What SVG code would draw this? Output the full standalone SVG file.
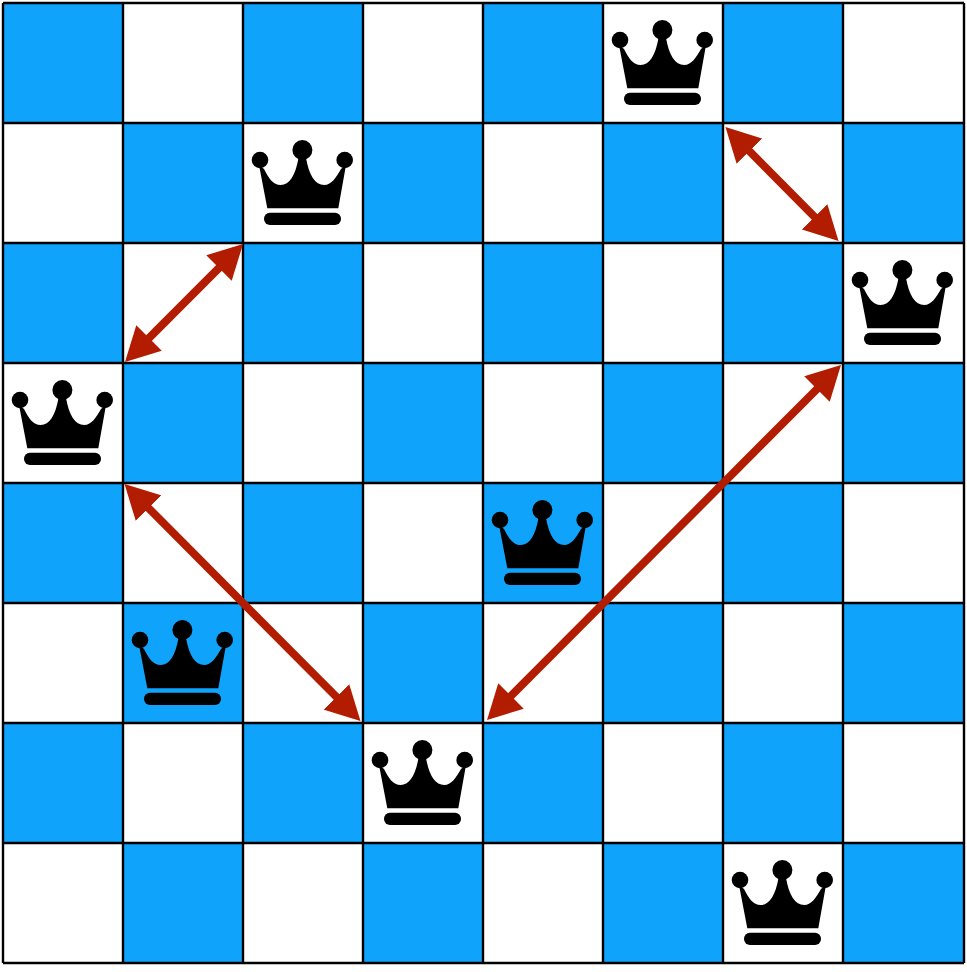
<svg xmlns="http://www.w3.org/2000/svg" xmlns:xlink="http://www.w3.org/1999/xlink" width="967" height="972" viewBox="0 0 967 972">
<style>
.b{fill:#0fa3fb}
#grid path{fill:none;stroke:#000;stroke-width:2.4}
#connectors line{stroke:#b21c00;stroke-width:8;marker-start:url(#head);marker-end:url(#head)}
</style>
<defs>
<marker id="head" markerUnits="userSpaceOnUse" viewBox="0 0 34 36" markerWidth="34" markerHeight="36" refX="4" refY="18" orient="auto-start-reverse"><path d="M0,0L34,18L0,36Z" fill="#b21c00"/></marker>
<g id="crown">
<circle cx="59.4" cy="27" r="10"/><circle cx="17" cy="37" r="8.3"/><circle cx="101.7" cy="37" r="8.3"/>
<path d="M16,42L24.3,85.3H95.3L103,42L98,46C93,55 88,62 81.3,62C72,62 66,52 63,35H55.5C52.5,52 46.5,62 37.7,62C30,62 25.5,55 21,46Z"/>
<rect x="21" y="89.7" width="77" height="12.3" rx="6"/>
</g>
</defs>
<rect width="967" height="972" fill="#fff"/>
<g id="board">
<rect class="b" x="3" y="3" width="120" height="120"/><rect class="b" x="243" y="3" width="120" height="120"/><rect class="b" x="483" y="3" width="120" height="120"/><rect class="b" x="723" y="3" width="120" height="120"/>
<rect class="b" x="123" y="123" width="120" height="120"/><rect class="b" x="363" y="123" width="120" height="120"/><rect class="b" x="603" y="123" width="120" height="120"/><rect class="b" x="843" y="123" width="121" height="120"/>
<rect class="b" x="3" y="243" width="120" height="120"/><rect class="b" x="243" y="243" width="120" height="120"/><rect class="b" x="483" y="243" width="120" height="120"/><rect class="b" x="723" y="243" width="120" height="120"/>
<rect class="b" x="123" y="363" width="120" height="120"/><rect class="b" x="363" y="363" width="120" height="120"/><rect class="b" x="603" y="363" width="120" height="120"/><rect class="b" x="843" y="363" width="121" height="120"/>
<rect class="b" x="3" y="483" width="120" height="120"/><rect class="b" x="243" y="483" width="120" height="120"/><rect class="b" x="483" y="483" width="120" height="120"/><rect class="b" x="723" y="483" width="120" height="120"/>
<rect class="b" x="123" y="603" width="120" height="120"/><rect class="b" x="363" y="603" width="120" height="120"/><rect class="b" x="603" y="603" width="120" height="120"/><rect class="b" x="843" y="603" width="121" height="120"/>
<rect class="b" x="3" y="723" width="120" height="120"/><rect class="b" x="243" y="723" width="120" height="120"/><rect class="b" x="483" y="723" width="120" height="120"/><rect class="b" x="723" y="723" width="120" height="120"/>
<rect class="b" x="123" y="843" width="120" height="120"/><rect class="b" x="363" y="843" width="120" height="120"/><rect class="b" x="603" y="843" width="120" height="120"/><rect class="b" x="843" y="843" width="121" height="120"/>
</g>
<g id="grid"><path d="M3,3V963M123,3V963M243,3V963M363,3V963M483,3V963M603,3V963M723,3V963M843,3V963M964,3V963M3,3H964M3,123H964M3,243H964M3,363H964M3,483H964M3,603H964M3,723H964M3,843H964M3,963H964"/></g>
<g id="queen-1"><use xlink:href="#crown" href="#crown" x="603" y="3"/></g>
<g id="queen-2"><use xlink:href="#crown" href="#crown" x="243" y="123"/></g>
<g id="queen-3"><use xlink:href="#crown" href="#crown" x="843" y="243"/></g>
<g id="queen-4"><use xlink:href="#crown" href="#crown" x="3" y="363"/></g>
<g id="queen-5"><use xlink:href="#crown" href="#crown" x="483" y="483"/></g>
<g id="queen-6"><use xlink:href="#crown" href="#crown" x="123" y="603"/></g>
<g id="queen-7"><use xlink:href="#crown" href="#crown" x="363" y="723"/></g>
<g id="queen-8"><use xlink:href="#crown" href="#crown" x="723" y="843"/></g>
<g id="connectors">
<line x1="746.6" y1="148.3" x2="817.4" y2="219.7"/>
<line x1="221.8" y1="265.2" x2="146.2" y2="340.8"/>
<line x1="145.7" y1="505.3" x2="339.3" y2="699.7"/>
<line x1="819.8" y1="386.2" x2="508.2" y2="698.8"/>
</g>
</svg>
